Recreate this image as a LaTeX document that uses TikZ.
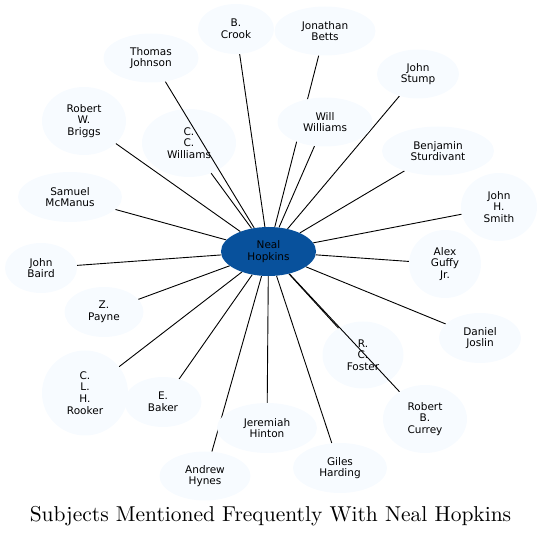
\documentclass[tikz,border=0pt]{standalone}
\usepackage{fontspec}
\newfontfamily\dejavu{DejaVu Sans}
\newfontfamily\titlefont{lmroman10-regular}[Extension=.otf]
\usetikzlibrary{shapes.geometric}
\pgfdeclarelayer{bg}
\pgfdeclarelayer{fg}
\pgfsetlayers{bg,main,fg}
\definecolor{leaf}{HTML}{F7FBFF}
\definecolor{hub}{HTML}{08519C}
\tikzset{
  person/.style={ellipse, fill=leaf, draw=none, inner sep=0pt, align=center,
    font=\dejavu\fontsize{10.5}{11.7}\selectfont, text=black},
  hubnode/.style={person, fill=hub},
  link/.style={draw=black, line width=0.9pt},
  titletext/.style={font=\titlefont\fontsize{21.5}{24}\selectfont, anchor=base, inner sep=0pt}
}
\begin{document}
\begin{tikzpicture}[x=1pt,y=-1pt]
\useasboundingbox (0,0) rectangle (542,537);
\begin{pgfonlayer}{bg}
\node[person, minimum width=94pt, minimum height=68pt] (ccw) at (189,143) {C.\\C.\\Williams};
\node[person, minimum width=81pt, minimum height=67pt] (foster) at (363,355) {R.\\C.\\Foster};
\end{pgfonlayer}
\begin{pgfonlayer}{fg}
\node[hubnode, minimum width=95pt, minimum height=49pt] (hub) at (268.5,251.5) {Neal\\Hopkins};
\node[person, minimum width=76pt, minimum height=50pt] (crook) at (236,29) {B.\\Crook};
\node[person, minimum width=101pt, minimum height=49pt] (betts) at (325,31) {Jonathan\\Betts};
\node[person, minimum width=95pt, minimum height=49pt] (tjohnson) at (151,58) {Thomas\\Johnson};
\node[person, minimum width=82pt, minimum height=49pt] (stump) at (418,74) {John\\Stump};
\node[person, minimum width=84pt, minimum height=68pt] (briggs) at (84,121) {Robert\\W.\\Briggs};
\node[person, minimum width=95pt, minimum height=49pt] (willw) at (325,122) {Will\\Williams};
\node[person, minimum width=112pt, minimum height=49pt] (sturd) at (438,151) {Benjamin\\Sturdivant};
\node[person, minimum width=104pt, minimum height=50pt] (mcmanus) at (70,197) {Samuel\\McManus};
\node[person, minimum width=76pt, minimum height=68pt] (smith) at (499,207) {John\\H.\\Smith};
\node[person, minimum width=72pt, minimum height=50pt] (baird) at (41,268) {John\\Baird};
\node[person, minimum width=72pt, minimum height=68pt] (guffy) at (445,264) {Alex\\Guffy\\Jr.};
\node[person, minimum width=79pt, minimum height=50pt] (payne) at (104,312) {Z.\\Payne};
\node[person, minimum width=82pt, minimum height=50pt] (joslin) at (480,338) {Daniel\\Joslin};
\node[person, minimum width=86pt, minimum height=85pt] (rooker) at (85,393) {C.\\L.\\H.\\Rooker};
\node[person, minimum width=77pt, minimum height=50pt] (baker) at (163,402) {E.\\Baker};
\node[person, minimum width=84pt, minimum height=68pt] (currey) at (425,419) {Robert\\B.\\Currey};
\node[person, minimum width=100pt, minimum height=50pt] (hinton) at (267,428) {Jeremiah\\Hinton};
\node[person, minimum width=94pt, minimum height=50pt] (harding) at (340,468) {Giles\\Harding};
\node[person, minimum width=91pt, minimum height=49pt] (hynes) at (205,476) {Andrew\\Hynes};
\end{pgfonlayer}
\foreach \t in {crook,betts,tjohnson,stump,briggs,ccw,willw,sturd,mcmanus,smith,baird,guffy,payne,joslin,foster,rooker,baker,currey,hinton,harding,hynes}
  \draw[link] (hub) -- (\t);
\node[titletext] (title) at (270.5,522) {Subjects Mentioned Frequently With Neal Hopkins};
\end{tikzpicture}
\end{document}
